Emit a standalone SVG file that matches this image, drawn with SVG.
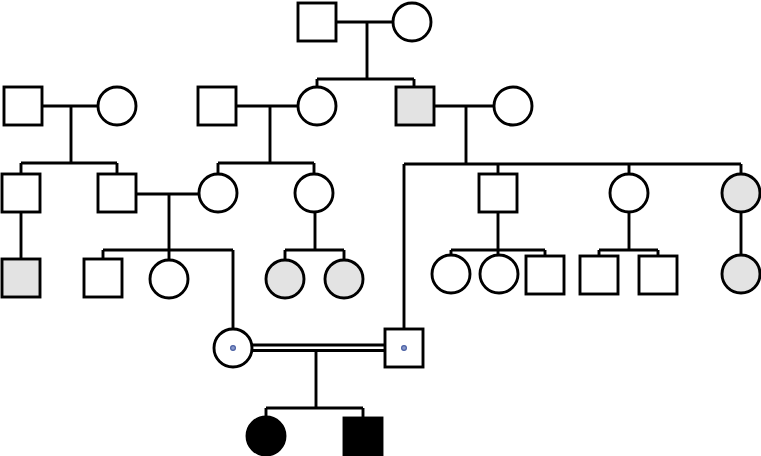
<svg xmlns="http://www.w3.org/2000/svg" width="761" height="456" viewBox="0 0 761 456">
  <style>
    .ln { fill: none; stroke: #000; stroke-width: 2.9; }
    .m, .f { fill: #fff; stroke: #000; stroke-width: 2.9; }
    .g { fill: #e3e3e3; }
    .b { fill: #000; }
    .dot { fill: #8a9acb; stroke: #4a5fa3; stroke-width: 1.2; }
  </style>
  <rect width="761" height="456" fill="#fff"/>

  <g id="connectors">
    <!-- generation I -->
    <path class="ln" d="M336,22 H393 M367,22 V79 M317,79 H414 M317,79 V87 M414,79 V87"/>
    <!-- generation II couples -->
    <path class="ln" d="M42,106 H98 M71,106 V163 M21,163 H117 M21,163 V174 M117,163 V174"/>
    <path class="ln" d="M236,106 H298 M270,106 V163 M218,163 H314 M218,163 V174 M314,163 V174"/>
    <path class="ln" d="M434,106 H494 M466,106 V164 M404,164 H741 M404,164 V329 M498,164 V174 M629,164 V174 M741,164 V174"/>
    <!-- generation III -->
    <path class="ln" d="M21,212 V259"/>
    <path class="ln" d="M136,194 H199 M169,194 V260 M103,250 H233 M103,250 V259 M233,250 V329"/>
    <path class="ln" d="M315,212 V250 M285,250 H344 M285,250 V260 M344,250 V260"/>
    <path class="ln" d="M498,212 V255 M451,250 H545 M451,250 V255 M545,250 V256"/>
    <path class="ln" d="M629,212 V250 M599,250 H658 M599,250 V256 M658,250 V256"/>
    <path class="ln" d="M741,212 V255"/>
    <!-- consanguineous union and offspring -->
    <path class="ln" d="M252,345 H385 M252,350.5 H385" stroke-width="2.3"/>
    <path class="ln" d="M316,350 V408 M266,408 H363 M266,408 V417 M363,408 V418"/>
  </g>

  <!-- generation I -->
  <g id="gf"><rect class="m" x="298" y="3" width="38" height="38"/></g>
  <g id="gm"><circle class="f" cx="412" cy="22" r="19"/></g>

  <!-- generation II -->
  <g id="p1m"><rect class="m" x="4" y="87" width="38" height="38"/></g>
  <g id="p1f"><circle class="f" cx="117" cy="106" r="19"/></g>
  <g id="p2m"><rect class="m" x="198" y="87" width="38" height="38"/></g>
  <g id="p2f"><circle class="f" cx="317" cy="106" r="19"/></g>
  <g id="p3m"><rect class="m g" x="396" y="87" width="38" height="38"/></g>
  <g id="p3f"><circle class="f" cx="513" cy="106" r="19"/></g>

  <!-- generation III -->
  <g id="c1"><rect class="m" x="2" y="174" width="38" height="38"/></g>
  <g id="c2"><rect class="m" x="98" y="174" width="38" height="38"/></g>
  <g id="c3"><circle class="f" cx="218" cy="193" r="19"/></g>
  <g id="c4"><circle class="f" cx="314" cy="193" r="19"/></g>
  <g id="c5"><rect class="m" x="479" y="174" width="38" height="38"/></g>
  <g id="c6"><circle class="f" cx="629" cy="193" r="19"/></g>
  <g id="c7"><circle class="f g" cx="741" cy="193" r="19"/></g>

  <!-- generation IV -->
  <g id="d1"><rect class="m g" x="2" y="259" width="38" height="38"/></g>
  <g id="d2"><rect class="m" x="84" y="259" width="38" height="38"/></g>
  <g id="d3"><circle class="f" cx="169" cy="279" r="19"/></g>
  <g id="d4"><circle class="f g" cx="285" cy="279" r="19"/></g>
  <g id="d5"><circle class="f g" cx="344" cy="279" r="19"/></g>
  <g id="d6"><circle class="f" cx="451" cy="274" r="19"/></g>
  <g id="d7"><circle class="f" cx="499" cy="274" r="19"/></g>
  <g id="d8"><rect class="m" x="526" y="256" width="38" height="38"/></g>
  <g id="d9"><rect class="m" x="580" y="256" width="38" height="38"/></g>
  <g id="d10"><rect class="m" x="639" y="256" width="38" height="38"/></g>
  <g id="d11"><circle class="f g" cx="741" cy="274" r="19"/></g>

  <!-- carriers -->
  <g id="carrierF"><circle class="f" cx="233" cy="348" r="19"/><circle class="dot" cx="233" cy="348" r="2.4"/></g>
  <g id="carrierM"><rect class="m" x="385" y="329" width="38" height="38"/><circle class="dot" cx="404" cy="348" r="2.4"/></g>

  <!-- affected offspring -->
  <g id="affF"><circle class="f b" cx="266" cy="436" r="19"/></g>
  <g id="affM"><rect class="m b" x="344" y="418" width="38" height="38"/></g>
</svg>
